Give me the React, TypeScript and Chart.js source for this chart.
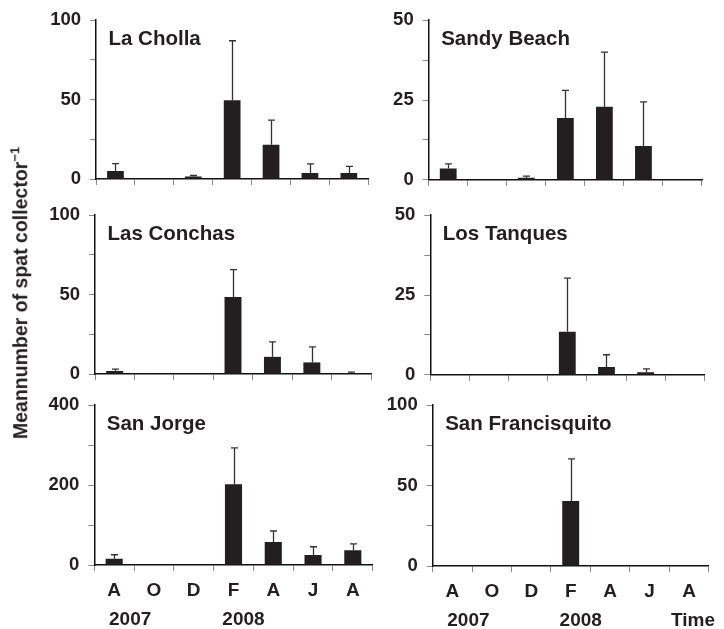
import React, { useEffect, useRef } from 'react';
import { Chart, registerables } from 'chart.js';

Chart.register(...registerables);

// Sampling months (Aug 2007 – Aug 2008)
const months = ['A', 'O', 'D', 'F', 'A', 'J', 'A'];

// Mean spat per collector and standard deviation, by site
const laChollaMean = [5, 0.3, 1.5, 49.5, 21.5, 3.7, 3.7];
const laChollaSd = [4.7, 0, 0.7, 37.5, 15.5, 5.8, 4.3];

const sandyBeachMean = [3.6, 0, 0.7, 19.4, 22.9, 10.6, 0];
const sandyBeachSd = [1.4, 0, 0.5, 8.6, 17.1, 13.8, 0];

const lasConchasMean = [1.9, 0.2, 0.2, 48.4, 10.8, 7.3, 0.6];
const lasConchasSd = [1.2, 0, 0, 17.3, 9.4, 9.8, 0.6];

const losTanquesMean = [0, 0, 0, 13.5, 2.5, 0.8, 0];
const losTanquesSd = [0, 0, 0, 16.8, 3.8, 1.1, 0];

const sanJorgeMean = [15.7, 1, 1, 202, 57.4, 25, 36.7];
const sanJorgeSd = [10, 0, 0, 91, 27.6, 20.7, 16.3];

const sanFranciscoMean = [0, 0, 0, 40.4, 0, 0, 0];
const sanFranciscoSd = [0, 0, 0, 26.2, 0, 0, 0];

// Axis maxima per site
const axisMax = [100, 50, 100, 50, 400, 100];

// Year captions under the month axis (category index, text)
const yearsLeft = [
  { index: 0, text: '2007' },
  { index: 3, text: '2008' },
];
const yearsRight = [
  { index: 0, text: '2007' },
  { index: 3, text: '2008' },
  { index: 6, text: 'Time' },
];

const FONT = "'Liberation Sans', Arial, Helvetica, sans-serif";
const INK = '#231f20';

// Layout: canvas rectangles per column / row and the plot area of each panel
const COLS = [
  { x: 0, w: 385 },
  { x: 375, w: 349 },
];
const ROWS = [
  { y: 0, h: 200 },
  { y: 195, h: 200 },
  { y: 385, h: 244 },
];
const AREAS = [
  { left: 96, right: 368.3, top: 18, bottom: 179 },
  { left: 428.7, right: 702, top: 18.3, bottom: 181.7 },
  { left: 95, right: 371, top: 214.3, bottom: 374 },
  { left: 430.3, right: 704.3, top: 214.7, bottom: 377.3 },
  { left: 94.3, right: 372.7, top: 404.7, bottom: 565 },
  { left: 432.7, right: 708.7, top: 402.7, bottom: 566 },
];
const YEAR_SHIFT: Record<string, number> = { '2007': 16, '2008': 10, Time: 4 };

type PanelDef = {
  title: string;
  means: number[];
  sds: number[];
  max: number;
  col: number;
  row: number;
  years: { index: number; text: string }[] | null;
};

const panels: PanelDef[] = [
  { title: 'La Cholla', means: laChollaMean, sds: laChollaSd, max: axisMax[0], col: 0, row: 0, years: null },
  { title: 'Sandy Beach', means: sandyBeachMean, sds: sandyBeachSd, max: axisMax[1], col: 1, row: 0, years: null },
  { title: 'Las Conchas', means: lasConchasMean, sds: lasConchasSd, max: axisMax[2], col: 0, row: 1, years: null },
  { title: 'Los Tanques', means: losTanquesMean, sds: losTanquesSd, max: axisMax[3], col: 1, row: 1, years: null },
  { title: 'San Jorge', means: sanJorgeMean, sds: sanJorgeSd, max: axisMax[4], col: 0, row: 2, years: yearsLeft },
  { title: 'San Francisquito', means: sanFranciscoMean, sds: sanFranciscoSd, max: axisMax[5], col: 1, row: 2, years: yearsRight },
];

const Y_AXIS_W = 50;

function SitePanel({ def, idx }: { def: PanelDef; idx: number }) {
  const ref = useRef<HTMLCanvasElement | null>(null);
  const col = COLS[def.col];
  const row = ROWS[def.row];
  const area = AREAS[idx];
  const bottomRow = def.years !== null;
  const xAxisH = bottomRow ? 60 : 8;

  useEffect(() => {
    if (!ref.current) return;

    const padding = {
      left: area.left - col.x - Y_AXIS_W,
      right: col.x + col.w - area.right,
      top: area.top - row.y,
      bottom: row.y + row.h - area.bottom - xAxisH,
    };

    // Upper-only error bars with a short cap
    const errorBars = {
      id: 'errorBars',
      afterDatasetsDraw(chart: any) {
        const { ctx } = chart;
        const meta = chart.getDatasetMeta(0);
        const yScale = chart.scales.y;
        ctx.save();
        ctx.strokeStyle = '#333';
        ctx.lineWidth = 1.3;
        def.means.forEach((m, i) => {
          const sd = def.sds[i];
          if (!sd) return;
          const bar = meta.data[i];
          const x = Math.round(bar.x) + 0.5;
          const yTop = yScale.getPixelForValue(m + sd);
          const yBar = yScale.getPixelForValue(m);
          ctx.beginPath();
          ctx.moveTo(x, yBar);
          ctx.lineTo(x, yTop);
          ctx.moveTo(x - 3.5, yTop);
          ctx.lineTo(x + 3.5, yTop);
          ctx.stroke();
        });
        ctx.restore();
      },
    };

    // Site name inside the plot, and year captions below the month axis
    const captions = {
      id: 'captions',
      afterDraw(chart: any) {
        const { ctx, chartArea } = chart;
        ctx.save();
        ctx.fillStyle = INK;
        ctx.font = `bold 20.5px ${FONT}`;
        ctx.textAlign = 'left';
        ctx.textBaseline = 'alphabetic';
        ctx.fillText(def.title, chartArea.left + 12.5, chartArea.top + 25);
        if (def.years) {
          const xs = chart.scales.x;
          ctx.font = `bold 19px ${FONT}`;
          ctx.textAlign = 'center';
          def.years.forEach((yl) => {
            const x = xs.getPixelForValue(yl.index) + (YEAR_SHIFT[yl.text] || 0);
            ctx.fillText(yl.text, x, chartArea.bottom + 59.5);
          });
        }
        ctx.restore();
      },
    };

    const chart = new Chart(ref.current, {
      type: 'bar',
      data: {
        labels: months,
        datasets: [
          {
            data: def.means,
            backgroundColor: INK,
            borderWidth: 0,
            barPercentage: 0.43,
            categoryPercentage: 1,
          },
        ],
      },
      options: {
        animation: false,
        responsive: false,
        devicePixelRatio: 1,
        layout: { padding },
        plugins: {
          legend: { display: false },
          tooltip: { enabled: false },
          title: { display: false },
        },
        scales: {
          x: {
            type: 'category',
            offset: true,
            grid: {
              offset: true,
              drawOnChartArea: false,
              drawTicks: true,
              tickLength: 6,
              color: '#8a8a8a',
              lineWidth: 1,
            },
            border: { display: true, color: '#111', width: 1.5 },
            ticks: {
              display: bottomRow,
              color: INK,
              font: { family: FONT, size: 19, weight: 'bold' },
              padding: 8,
              maxRotation: 0,
              autoSkip: false,
            },
            afterFit: (scale: any) => {
              scale.height = xAxisH;
            },
          },
          y: {
            min: 0,
            max: def.max,
            grid: {
              drawOnChartArea: false,
              drawTicks: true,
              tickLength: 6,
              color: '#8a8a8a',
              lineWidth: 1,
            },
            border: { display: true, color: '#111', width: 1.5 },
            ticks: {
              stepSize: def.max / 4,
              color: INK,
              padding: 9,
              font: { family: FONT, size: 18.5, weight: 'bold' },
              callback: (v: any) => (Number(v) % (def.max / 2) === 0 ? String(v) : ''),
            },
            afterFit: (scale: any) => {
              scale.width = Y_AXIS_W;
            },
          },
        },
      },
      plugins: [errorBars, captions],
    } as any);

    return () => chart.destroy();
  }, []);

  return (
    <canvas
      ref={ref}
      width={col.w}
      height={row.h}
      style={{ position: 'absolute', left: col.x, top: row.y, width: col.w, height: row.h }}
    />
  );
}

export default function App() {
  return (
    <div
      style={{
        position: 'absolute',
        left: 0,
        top: 0,
        width: 724,
        height: 629,
        background: '#fff',
        overflow: 'hidden',
      }}
    >
      {panels.map((p, i) => (
        <SitePanel key={p.title} def={p} idx={i} />
      ))}
      <div
        style={{
          position: 'absolute',
          left: 21,
          top: 293,
          transform: 'translate(-50%, -50%) rotate(-90deg)',
          whiteSpace: 'nowrap',
          fontFamily: FONT,
          fontWeight: 'bold',
          fontSize: 19.5,
          color: INK,
          lineHeight: 1,
        }}
      >
        Meannumber of spat collector
        <sup style={{ fontSize: 13, verticalAlign: 'top', position: 'relative', top: -3 }}>−1</sup>
      </div>
    </div>
  );
}
